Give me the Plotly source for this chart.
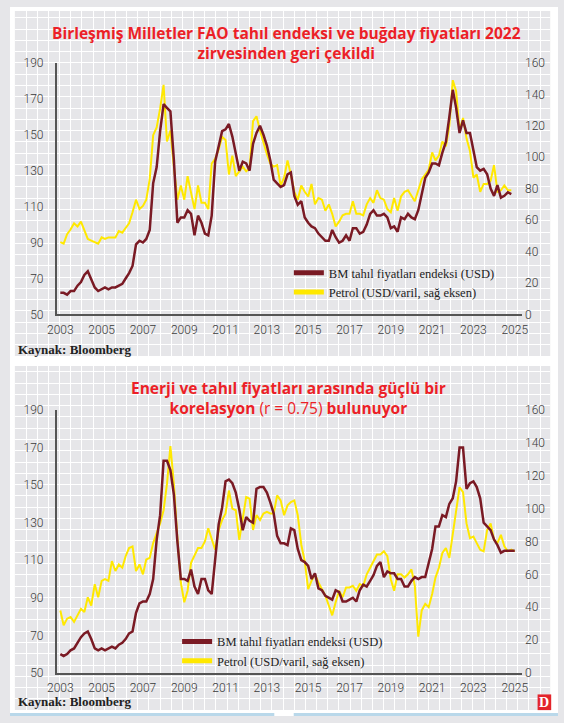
import pandas as pd
import plotly.graph_objects as go

W, H = 564, 723

# values read every two months, Jan 2003 onwards
# top chart: FAO cereal index (left axis) and the yellow series (right axis)
grain_top = [
    62, 62, 61, 63, 63, 66,
    68, 72, 74, 70, 65, 63,
    64, 65, 64, 65, 65, 66,
    67, 70, 73, 77, 89, 91,
    90, 92, 97, 123, 132, 152,
    167, 165, 163, 136, 101, 104,
    104, 108, 106, 94, 105, 101,
    95, 94, 105, 135, 144, 152,
    153, 156, 149, 139, 130, 135,
    134, 130, 145, 151, 155, 150,
    144, 136, 125, 123, 121, 122,
    128, 129, 116, 111, 113, 104,
    101, 99, 98, 95, 93, 91,
    91, 97, 93, 90, 91, 94,
    91, 98, 98, 95, 96, 100,
    106, 108, 105, 105, 106, 104,
    98, 99, 96, 104, 103, 106,
    104, 103, 108, 118, 126, 129,
    134, 134, 133, 140, 146, 160,
    175, 165, 151, 158, 151, 151,
    141, 132, 130, 131, 128, 120,
    116, 122, 115, 116, 118, 117,
]
oil_top = [
    46, 45, 51, 54, 58, 56,
    59, 54, 48, 47, 46, 45,
    49, 48, 49, 49, 49, 53,
    52, 55, 58, 65, 73, 67,
    69, 73, 86, 114, 119, 131,
    146, 110, 117, 94, 73, 82,
    73, 88, 78, 67, 82, 71,
    71, 67, 96, 99, 105, 113,
    111, 89, 101, 88, 91, 94,
    91, 93, 123, 126, 117, 109,
    102, 96, 94, 95, 82, 87,
    98, 89, 78, 73, 82, 78,
    75, 83, 70, 74, 73, 66,
    70, 64, 56, 59, 63, 64,
    64, 72, 64, 64, 63, 70,
    74, 71, 79, 74, 73, 67,
    65, 74, 66, 75, 78, 79,
    75, 72, 79, 86, 89, 92,
    103, 98, 101, 110, 107, 120,
    149, 142, 117, 125, 112, 104,
    87, 89, 78, 83, 83, 85,
    95, 78, 79, 82, 79, 79,
]

# bottom chart: FAO cereal index (left axis) and Brent oil (right axis)
grain_bottom = [
    60, 59, 60, 62, 63, 66,
    69, 71, 72, 68, 63, 62,
    63, 62, 63, 64, 63, 65,
    66, 68, 71, 72, 82, 87,
    88, 88, 92, 100, 121, 134,
    163, 163, 158, 145, 120, 100,
    100, 99, 105, 96, 92, 100,
    100, 94, 92, 110, 129, 138,
    152, 153, 151, 146, 137, 126,
    133, 131, 130, 148, 149, 149,
    146, 141, 135, 123, 119, 119,
    118, 127, 126, 116, 110, 109,
    107, 100, 103, 95, 94, 91,
    90, 89, 94, 93, 88, 88,
    89, 90, 88, 94, 97, 96,
    99, 102, 107, 109, 101, 104,
    103, 103, 100, 100, 96, 96,
    99, 101, 100, 101, 101, 108,
    116, 128, 128, 134, 133, 140,
    143, 152, 170, 170, 148, 151,
    152, 149, 143, 130, 128, 126,
    121, 118, 114, 115, 115, 115,
    115,
]
oil_bottom = [
    38, 29, 33, 34, 31, 35,
    39, 37, 46, 41, 54, 46,
    56, 57, 56, 68, 62, 66,
    64, 71, 76, 77, 62, 66,
    60, 69, 70, 79, 85, 91,
    99, 115, 138, 115, 82, 55,
    43, 50, 67, 71, 76, 76,
    80, 88, 82, 75, 87, 93,
    97, 111, 100, 99, 81, 95,
    107, 106, 87, 96, 93, 97,
    98, 97, 97, 108, 105, 96,
    102, 104, 105, 96, 78, 68,
    51, 56, 60, 55, 51, 47,
    41, 35, 43, 50, 46, 52,
    52, 53, 50, 54, 53, 60,
    64, 68, 72, 72, 74, 71,
    57, 50, 60, 60, 58, 60,
    63, 53, 22, 38, 42, 40,
    48, 58, 64, 73, 76, 70,
    85, 100, 113, 110, 91, 82,
    83, 79, 75, 74, 87, 91,
    81, 79, 84, 77, 74, 75,
    74,
]

dates_top = pd.date_range("2003-01-01", periods=len(grain_top), freq="2MS")
dates_bottom = pd.date_range("2003-01-01", periods=len(grain_bottom), freq="2MS")

year_labels = [str(y) for y in range(2003, 2026, 2)]
year_ticks = [f"{y}-01-01" for y in year_labels]

left_ticks = [50, 70, 90, 110, 130, 150, 170, 190]
right_ticks = [0, 20, 40, 60, 80, 100, 120, 140, 160]

RED = "#7a1a24"
YELLOW = "#ffe800"
TITLE_RED = "#ec1f27"
PANEL = "#e6e6e9"
AXIS = "#555555"

tick_font = dict(family="Roboto", size=12, color="#3a3a3a", weight=300)
legend_font = dict(family="Liberation Serif", size=12.5, color="#222222")


def px_x(p):
    return p / W


def px_y(p):
    return (H - p) / H


fig = go.Figure()

# empty traces so the graph-paper grid subplots get drawn
fig.add_trace(go.Scatter(x=[], y=[], xaxis="x", yaxis="y", showlegend=False, hoverinfo="skip"))
fig.add_trace(go.Scatter(x=[], y=[], xaxis="x2", yaxis="y2", showlegend=False, hoverinfo="skip"))

# top chart
fig.add_trace(go.Scatter(x=dates_top, y=oil_top, xaxis="x3", yaxis="y3", mode="lines",
                         line=dict(color=YELLOW, width=2), showlegend=False))
fig.add_trace(go.Scatter(x=dates_top, y=grain_top, xaxis="x3", yaxis="y4", mode="lines",
                         line=dict(color=RED, width=2.5), showlegend=False))

# bottom chart
fig.add_trace(go.Scatter(x=dates_bottom, y=oil_bottom, xaxis="x4", yaxis="y5", mode="lines",
                         line=dict(color=YELLOW, width=2), showlegend=False))
fig.add_trace(go.Scatter(x=dates_bottom, y=grain_bottom, xaxis="x4", yaxis="y6", mode="lines",
                         line=dict(color=RED, width=2.5), showlegend=False))

# legend entries (thicker swatches than the lines)
for lg, xa, ya in [("legend", "x3", "y4"), ("legend2", "x4", "y6")]:
    fig.add_trace(go.Scatter(x=[None], y=[None], xaxis=xa, yaxis=ya, mode="lines",
                             line=dict(color=RED, width=5), legend=lg,
                             name="BM tahıl fiyatları endeksi (USD)"))
    fig.add_trace(go.Scatter(x=[None], y=[None], xaxis=xa, yaxis=ya, mode="lines",
                             line=dict(color=YELLOW, width=5), legend=lg,
                             name="Petrol (USD/varil, sağ eksen)"))

grid_axis = dict(showgrid=True, gridcolor="white", gridwidth=1, dtick=11.5, tick0=0,
                 showticklabels=False, zeroline=False, showline=False, ticks="",
                 fixedrange=True)

x_range = ["2002-10-28", "2025-05-10"]

date_axis = dict(type="date", range=x_range, tickvals=year_ticks, ticktext=year_labels,
                 showgrid=False, zeroline=False, showline=True, linecolor=AXIS,
                 linewidth=1.5, ticks="", tickfont=tick_font, ticklabelstandoff=3)

right_axis = dict(range=[0, 160], tickvals=right_ticks, side="right", showgrid=False,
                  zeroline=False, showline=False, ticks="", tickfont=tick_font,
                  ticklabelstandoff=2)

left_axis = dict(range=[50, 190], tickvals=left_ticks, side="left", showgrid=False,
                 zeroline=False, showline=True, linecolor=AXIS, linewidth=1.5,
                 ticks="", tickfont=tick_font, ticklabelstandoff=9)

top_dom = [px_y(313.5), px_y(57)]
bot_dom = [px_y(679), px_y(411)]
x_dom = [px_x(48), px_x(527)]

fig.update_layout(
    width=W, height=H, autosize=False,
    margin=dict(l=0, r=0, t=0, b=0),
    paper_bgcolor=PANEL, plot_bgcolor="rgba(0,0,0,0)",
    xaxis=dict(grid_axis, domain=[px_x(5), px_x(556)], range=[0, 551], anchor="y"),
    yaxis=dict(grid_axis, domain=[px_y(356), px_y(4)], range=[0, 352], anchor="x"),
    xaxis2=dict(grid_axis, domain=[px_x(5), px_x(556)], range=[0, 551], anchor="y2"),
    yaxis2=dict(grid_axis, domain=[px_y(717), px_y(366)], range=[0, 351], anchor="x2"),
    xaxis3=dict(date_axis, domain=x_dom, anchor="y3"),
    yaxis3=dict(right_axis, domain=top_dom, anchor="x3"),
    yaxis4=dict(left_axis, overlaying="y3", anchor="x3"),
    xaxis4=dict(date_axis, domain=x_dom, anchor="y5"),
    yaxis5=dict(right_axis, domain=bot_dom, anchor="x4"),
    yaxis6=dict(left_axis, overlaying="y5", anchor="x4"),
    legend=dict(x=px_x(287), y=px_y(256), xanchor="left", yanchor="top",
                bgcolor="rgba(0,0,0,0)", font=legend_font, itemwidth=30,
                tracegroupgap=0),
    legend2=dict(x=px_x(172), y=px_y(632), xanchor="left", yanchor="top",
                 bgcolor="rgba(0,0,0,0)", font=legend_font, itemwidth=30,
                 tracegroupgap=0),
    showlegend=True,
    hovermode=False,
)

# white page around the two grey panels
white_strips = [
    (0, W, 0, 4),
    (0, W, 356, 366),
    (0, W, 717, H),
    (0, 5, 0, H),
    (556, W, 0, H),
]
for x0, x1, y0, y1 in white_strips:
    fig.add_shape(type="rect", xref="paper", yref="paper", x0=px_x(x0), x1=px_x(x1),
                  y0=px_y(y1), y1=px_y(y0), fillcolor="white", line_width=0)

fig.add_shape(type="rect", xref="paper", yref="paper", x0=0, x1=px_x(272),
              y0=0, y1=px_y(720), fillcolor="#b9d8ea", line_width=0)
fig.add_shape(type="rect", xref="paper", yref="paper", x0=px_x(292), x1=1,
              y0=0, y1=px_y(720), fillcolor="#b9d8ea", line_width=0)
fig.add_shape(type="rect", xref="paper", yref="paper", x0=px_x(543), x1=px_x(557),
              y0=px_y(717), y1=px_y(701), fillcolor="#e3242b", line_width=0)

title_font = dict(family="Open Sans", size=15.5, color=TITLE_RED)
source_font = dict(family="Liberation Serif", size=13, color="#222222")

titles = [
    (px_x(285), px_y(36.5),
     "<b>Birleşmiş Milletler FAO tahıl endeksi ve buğday fiyatları 2022</b><br>"
     "<b>zirvesinden geri çekildi</b>"),
    (px_x(287), px_y(398.5),
     "<b>Enerji ve tahıl fiyatları arasında güçlü bir</b><br>"
     "<b>korelasyon</b> (r = 0.75) <b>bulunuyor</b>"),
]
for x, y, text in titles:
    fig.add_annotation(x=x, y=y, xref="paper", yref="paper", text=text, showarrow=False,
                       xanchor="center", yanchor="middle", align="center", font=title_font)

for y in [px_y(349), px_y(708)]:
    fig.add_annotation(x=px_x(6), y=y, xref="paper", yref="paper",
                       text="<b>Kaynak: Bloomberg</b>", showarrow=False,
                       xanchor="left", yanchor="middle", font=source_font)

fig.add_annotation(x=px_x(550), y=px_y(709), xref="paper", yref="paper", text="<b>D</b>",
                   showarrow=False, xanchor="center", yanchor="middle",
                   font=dict(family="Liberation Serif", size=14, color="white"))

# no page margin, so the figure fills the window exactly
fig.write_html("out.html", config={"displayModeBar": False},
               post_script="document.body.style.margin='0';")
